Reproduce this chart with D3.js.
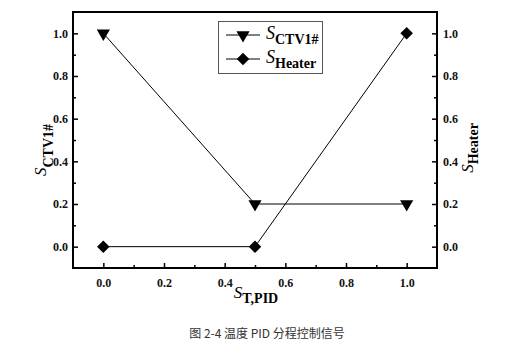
<!DOCTYPE html>
<html><head><meta charset="utf-8">
<script src="https://cdn.jsdelivr.net/npm/d3@7/dist/d3.min.js"></script>
<style>body{margin:0;background:#fff}svg{display:block}</style>
</head><body>
<svg id="c" width="516" height="355"></svg>
<script>
const xValues = [0, 0.5, 1.0];
const ctvValues = [1.0, 0.2, 0.2];
const heaterValues = [0.0, 0.0, 1.0];
const xTicks = [0, 0.2, 0.4, 0.6, 0.8, 1.0];
const yTicks = [0, 0.2, 0.4, 0.6, 0.8, 1.0];
const minorTicks = [0.1, 0.3, 0.5, 0.7, 0.9];
const seriesNames = ["CTV1#", "Heater"];
const caption = "图 2-4 温度 PID 分程控制信号";

const svg = d3.select("#c");
const L = 73, R = 437, T = 12, B = 268;
const x = d3.scaleLinear().domain([-0.1, 1.1]).range([L, R]);
const y = d3.scaleLinear().domain([-0.1, 1.1]).range([B, T]);
const fmt = d3.format(".1f");
const tickFont = "bold 12px 'Liberation Serif', serif";

function styleAxis(g){
  g.select(".domain").remove();
  g.selectAll("line").attr("stroke","#000").attr("stroke-width",1.5);
  g.selectAll("text").style("font", tickFont).attr("fill","#111");
}
// major axes
svg.append("g").attr("transform",`translate(0,${B})`)
  .call(d3.axisBottom(x).tickValues(xTicks).tickFormat(fmt).tickSizeInner(-5).tickSizeOuter(0).tickPadding(10)).call(styleAxis);
svg.append("g").attr("transform",`translate(${L},0)`)
  .call(d3.axisLeft(y).tickValues(yTicks).tickFormat(fmt).tickSizeInner(-5).tickSizeOuter(0).tickPadding(5)).call(styleAxis);
svg.append("g").attr("transform",`translate(${R},0)`)
  .call(d3.axisRight(y).tickValues(yTicks).tickFormat(fmt).tickSizeInner(-5).tickSizeOuter(0).tickPadding(6)).call(styleAxis);
// minor
svg.append("g").attr("transform",`translate(0,${B})`)
  .call(d3.axisBottom(x).tickValues(minorTicks).tickFormat("").tickSizeInner(-3).tickSizeOuter(0)).call(styleAxis);
svg.append("g").attr("transform",`translate(${L},0)`)
  .call(d3.axisLeft(y).tickValues(minorTicks).tickFormat("").tickSizeInner(-3).tickSizeOuter(0)).call(styleAxis);
svg.append("g").attr("transform",`translate(${R},0)`)
  .call(d3.axisRight(y).tickValues(minorTicks).tickFormat("").tickSizeInner(-3).tickSizeOuter(0)).call(styleAxis);

// frame
svg.append("rect").attr("x",L).attr("y",T).attr("width",R-L).attr("height",B-T)
  .attr("fill","none").attr("stroke","#000").attr("stroke-width",2);

const line = d3.line();
const ctvPts = xValues.map((v,i)=>[x(v), y(ctvValues[i])]);
const heatPts = xValues.map((v,i)=>[x(v), y(heaterValues[i])]);
svg.append("path").attr("d", line(ctvPts)).attr("fill","none").attr("stroke","#000").attr("stroke-width",1);
svg.append("path").attr("d", line(heatPts)).attr("fill","none").attr("stroke","#000").attr("stroke-width",1);

const tri = d3.symbol().type(d3.symbolTriangle).size(75);
const dia = d3.symbol().type(d3.symbolDiamond2).size(100);
svg.selectAll(".ctv").data(ctvPts).join("path").attr("d", tri)
  .attr("transform", d=>`translate(${d[0]},${d[1]}) rotate(180)`).attr("fill","#000");
svg.selectAll(".heat").data(heatPts).join("path").attr("d", dia)
  .attr("transform", d=>`translate(${d[0]},${d[1]})`).attr("fill","#000");

// legend
svg.append("rect").attr("x",218.5).attr("y",21.5).attr("width",104).attr("height",52)
  .attr("fill","#fff").attr("stroke","#555").attr("stroke-width",1);
const legRows = [35, 59];
[0,1].forEach(i=>{
  const ly = legRows[i];
  svg.append("line").attr("x1",226).attr("x2",260).attr("y1",ly).attr("y2",ly).attr("stroke","#000").attr("stroke-width",1);
  svg.append("path").attr("d", i===0?tri:dia)
    .attr("transform", i===0?`translate(243,${ly}) rotate(180)`:`translate(243,${ly})`).attr("fill","#000");
  const t = svg.append("text").attr("x",266).attr("y",ly+4).style("font-family","'Liberation Serif', serif");
  t.append("tspan").text("S").style("font-style","italic").style("font-size","18px");
  t.append("tspan").text(seriesNames[i]).attr("dy",5).style("font-weight","bold").style("font-size","14px");
});

// axis labels
function axisLabel(xp, yp, rot, sub, dy){
  const t = svg.append("text").attr("transform",`translate(${xp},${yp}) rotate(${rot})`)
    .attr("text-anchor","middle").style("font-family","'Liberation Serif', serif");
  t.append("tspan").text("S").style("font-style","italic").style("font-size","17px");
  t.append("tspan").text(sub).attr("dy",dy).style("font-weight","bold").style("font-size","14px");
}
axisLabel(46, 150, -90, "CTV1#", 7);
axisLabel(473, 148, -90, "Heater", 5);
axisLabel(256, 298, 0, "T,PID", 5);

svg.append("text").attr("x",267).attr("y",338).attr("text-anchor","middle")
  .style("font","12px 'Noto Sans CJK SC', sans-serif").attr("fill","#333").text(caption);
</script>
</body></html>
